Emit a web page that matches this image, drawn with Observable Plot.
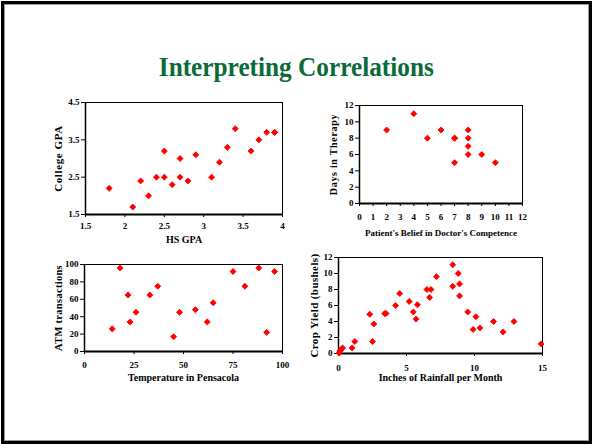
<!DOCTYPE html>
<html>
<head>
<meta charset="utf-8">
<script src="https://cdn.jsdelivr.net/npm/d3@7"></script>
<script src="https://cdn.jsdelivr.net/npm/@observablehq/plot@0.6"></script>
<style>
  html, body { margin: 0; padding: 0; background: #fff; }
  #slide { position: relative; width: 592px; height: 445px; overflow: hidden; background: #fff; }
  #border { position: absolute; left: 1px; top: 1px; width: 591px; height: 443px; box-sizing: border-box;
            border: 3px solid #000; box-shadow: inset 0 0 0 1px #999; }
  #title { position: absolute; left: 0; top: 51px; width: 592px; text-align: center;
           font-family: "Liberation Serif", "DejaVu Serif", serif; font-weight: bold; font-size: 28px;
           color: #0b6a3a; white-space: nowrap; }
  #title span { display: inline-block; transform-origin: center; }
  .panel { position: absolute; }
  .panel svg { overflow: visible; }
</style>
</head>
<body>
<div id="slide">
  <div id="border"></div>
  <div id="title"><span id="titletext">Interpreting Correlations</span></div>
  <div class="panel" id="p1" style="left:30px; top:92px;"></div>
  <div class="panel" id="p2" style="left:300px; top:95px;"></div>
  <div class="panel" id="p3" style="left:30px; top:255px;"></div>
  <div class="panel" id="p4" style="left:300px; top:250px;"></div>
</div>
<script>
// ---- Data ----
const titleText = "Interpreting Correlations";

// Panel 1: HS GPA vs College GPA
const hsGpa      = [1.8, 2.1, 2.2, 2.3, 2.4, 2.5, 2.5, 2.6, 2.7, 2.7, 2.8, 2.9, 3.1, 3.2, 3.3, 3.4, 3.6, 3.7, 3.8, 3.9, 3.9];
const collegeGpa = [2.2, 1.7, 2.4, 2.0, 2.5, 3.2, 2.5, 2.3, 3.0, 2.5, 2.4, 3.1, 2.5, 2.9, 3.3, 3.8, 3.2, 3.5, 3.7, 3.7, 3.7];
const p1XTicks = [1.5, 2, 2.5, 3, 3.5, 4];
const p1YTicks = [1.5, 2.5, 3.5, 4.5];

// Panel 2: Belief in doctor's competence vs days in therapy
const belief = [2, 4, 5, 6, 7, 7, 7, 8, 8, 8, 8, 9, 10];
const daysTherapy = [9, 11, 8, 9, 8, 8, 5, 9, 8, 7, 6, 6, 5];
const p2XTicks = [0, 1, 2, 3, 4, 5, 6, 7, 8, 9, 10, 11, 12];
const p2YTicks = [0, 2, 4, 6, 8, 10, 12];

// Panel 3: Temperature in Pensacola vs ATM transactions
const temperature = [14, 18, 22, 23, 26, 33, 37, 45, 48, 56, 62, 65, 75, 81, 88, 92, 96];
const atmTrans    = [26, 96, 65, 34, 45, 65, 75, 17, 45, 48, 34, 56, 92, 75, 96, 22, 92];
const p3XTicks = [0, 25, 50, 75, 100];
const p3YTicks = [0, 20, 40, 60, 80, 100];

// Panel 4: Rainfall vs crop yield
const rainfall  = [0.05, 0.1, 0.2, 0.3, 1.0, 1.2, 2.3, 2.5, 2.6, 3.4, 3.5, 4.2, 4.5, 5.2, 5.5, 5.7, 5.8, 6.5, 6.7, 6.8, 7.2, 8.4, 8.4, 8.8, 8.9, 8.9, 9.5, 9.9, 10.1, 10.4, 11.4, 12.1, 12.9, 14.9];
const cropYield = [0.05, 0.3, 0.5, 0.7, 0.7, 1.5, 4.9, 1.5, 3.7, 5.0, 5.0, 6.0, 7.5, 6.5, 5.2, 4.3, 6.1, 8.0, 7.0, 8.0, 9.6, 11.1, 8.4, 10.0, 8.7, 7.2, 5.2, 3.0, 4.6, 3.2, 4.0, 2.7, 4.0, 1.2];
const p4XTicks = [0, 5, 10, 15];
const p4YTicks = [0, 2, 4, 6, 8, 10, 12];

document.getElementById("titletext").textContent = titleText;

const FONT = "'Liberation Serif', 'DejaVu Serif', serif";
const RED = "#ff0000";

function zip(xs, ys) { return xs.map((x, i) => ({x, y: ys[i]})); }

function panel(opts) {
  const data = zip(opts.xs, opts.ys);
  const x0 = opts.xDomain[0], y0 = opts.yDomain[0];
  return Plot.plot({
    width: opts.width, height: opts.height,
    marginLeft: opts.ml, marginRight: opts.mr, marginTop: opts.mt, marginBottom: opts.mb,
    style: {fontFamily: FONT, fontSize: "9px", fontWeight: "bold", color: "#000", background: "transparent"},
    x: {domain: opts.xDomain},
    y: {domain: opts.yDomain},
    marks: [
      Plot.frame({stroke: "#000", strokeWidth: 1}),
      Plot.ruleY([y0], {stroke: "#000", strokeWidth: 2}),
      Plot.ruleX([x0], {stroke: "#000", strokeWidth: 1.5}),
      Plot.axisY({ticks: opts.yTicks, tickSize: 4, tickPadding: 2, tickFormat: d => String(d),
                  fontSize: 9, fontWeight: "bold",
                  label: opts.yLabel, labelAnchor: "center", labelOffset: opts.yLabelOffset, labelArrow: "none"}),
      Plot.axisX({ticks: opts.xTicks, tickSize: 3, tickPadding: opts.xTickPad ?? 5, tickFormat: d => String(d),
                  fontSize: 9, fontWeight: "bold",
                  label: opts.xLabel, labelAnchor: "center", labelOffset: opts.xLabelOffset, labelArrow: "none"}),
      Plot.dot(data, {x: "x", y: "y", symbol: "square", rotate: 45, r: 2.4, fill: RED, stroke: RED, strokeWidth: 0.8})
    ]
  });
}

function styleLabels(svg, xSize, ySize, ySpacing) {
  svg.querySelectorAll("g[aria-label='x-axis label'] text").forEach(t => {
    t.style.fontSize = xSize + "px";
    t.style.fontWeight = "bold";
  });
  svg.querySelectorAll("g[aria-label='y-axis label'] text").forEach(t => {
    t.style.fontSize = ySize + "px";
    t.style.fontWeight = "bold";
    t.style.letterSpacing = ySpacing + "px";
  });
  return svg;
}

document.getElementById("p1").appendChild(styleLabels(panel({
  xs: hsGpa, ys: collegeGpa, width: 260, height: 160, ml: 55, mr: 8, mt: 10, mb: 38,
  xDomain: [1.5, 4], yDomain: [1.5, 4.5], xTicks: p1XTicks, yTicks: p1YTicks,
  xTickPad: 5,
  xLabel: "HS GPA", yLabel: "College GPA", xLabelOffset: 28, yLabelOffset: 31
}), 10, 11, 0.6));

document.getElementById("p2").appendChild(styleLabels(panel({
  xs: belief, ys: daysTherapy, width: 250, height: 150, ml: 59, mr: 28, mt: 10, mb: 42,
  xDomain: [0, 12], yDomain: [0, 12], xTicks: p2XTicks, yTicks: p2YTicks,
  xTickPad: 7,
  xLabel: "Patient's Belief in Doctor's Competence", yLabel: "Days in Therapy", xLabelOffset: 32, yLabelOffset: 30
}), 9, 10, 0.7));

document.getElementById("p3").appendChild(styleLabels(panel({
  xs: temperature, ys: atmTrans, width: 260, height: 135, ml: 54, mr: 8, mt: 9, mb: 39,
  xDomain: [0, 100], yDomain: [0, 100], xTicks: p3XTicks, yTicks: p3YTicks,
  xTickPad: 7,
  xLabel: "Temperature in Pensacola", yLabel: "ATM transactions", xLabelOffset: 29, yLabelOffset: 30
}), 10, 10.5, 0.3));

document.getElementById("p4").appendChild(styleLabels(panel({
  xs: rainfall, ys: cropYield, width: 250, height: 140, ml: 38, mr: 8, mt: 7, mb: 37,
  xDomain: [0, 15], yDomain: [0, 12], xTicks: p4XTicks, yTicks: p4YTicks,
  xTickPad: 8,
  xLabel: "Inches of Rainfall per Month", yLabel: "Crop Yield (bushels)", xLabelOffset: 27, yLabelOffset: 28
}), 10, 11, 0.4));

// Fit title to the reference width (~275px)
const span = document.getElementById("titletext");
const w = span.getBoundingClientRect().width;
if (w > 0) span.style.transform = `scaleX(${275 / w})`;
</script>
</body>
</html>
